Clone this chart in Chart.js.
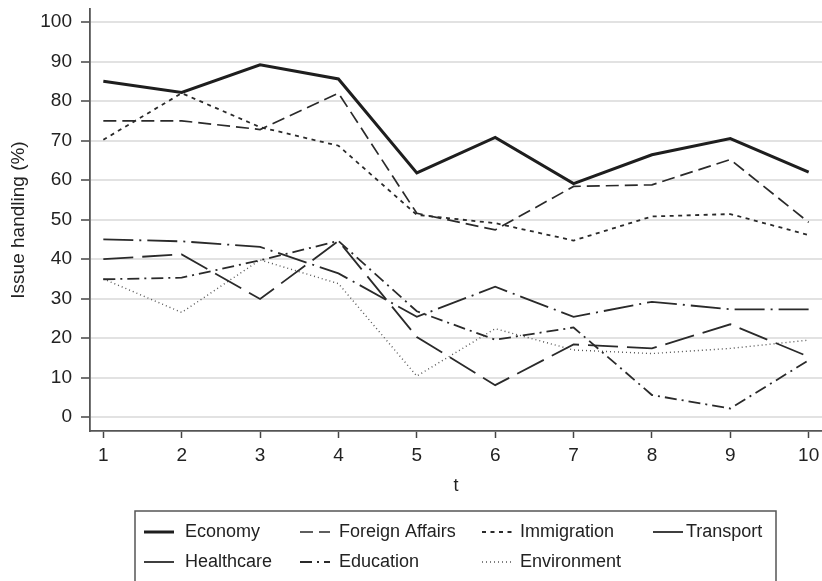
<!DOCTYPE html>
<html>
<head>
<meta charset="utf-8">
<script src="https://cdn.jsdelivr.net/npm/chart.js@4"></script>
<style>
  body { margin: 0; background: #fff; }
  #wrap { width: 822px; height: 581px; }
</style>
</head>
<body>
<div id="wrap"><canvas id="myChart" width="822" height="581"></canvas></div>
<script>
const t = [1, 2, 3, 4, 5, 6, 7, 8, 9, 10];
const yTicks = [0, 10, 20, 30, 40, 50, 60, 70, 80, 90, 100];

const economy = [85, 82.2, 89.2, 85.6, 61.8, 70.8, 59.1, 66.4, 70.5, 62];
const foreignAffairs = [75, 75, 72.8, 82, 51.6, 47.4, 58.4, 58.8, 65.2, 49.3];
const immigration = [70.2, 82, 73.4, 68.7, 51.2, 49.1, 44.7, 50.8, 51.4, 46.1];
const transport = [45, 44.5, 43.1, 36.4, 25.4, 33, 25.4, 29.2, 27.3, 27.3];
const healthcare = [40, 41.2, 29.9, 44.6, 20.3, 8.1, 18.4, 17.4, 23.5, 15.3];
const education = [34.9, 35.3, 39.7, 44.6, 26.8, 19.6, 22.7, 5.6, 2.2, 14.4];
const environment = [35, 26.5, 39.8, 33.8, 10.4, 22.4, 17, 16.1, 17.4, 19.5];

const pts = (arr) => t.map((x, i) => ({ x: x, y: arr[i] }));

function series(label, arr, dash, width, color) {
  return {
    label: label,
    data: pts(arr),
    borderColor: color,
    borderWidth: width,
    borderDash: dash,
    tension: 0,
    pointRadius: 0,
    fill: false,
  };
}

// legend drawn by hand: boxed, 4 + 3 entries
const boxLegend = {
  id: 'boxLegend',
  afterDraw(chart) {
    const ctx = chart.ctx;
    const sampleX = [144, 300, 482, 653];
    const textX = [185, 339, 520, 686];
    const rowY = [532, 562];
    ctx.save();
    ctx.strokeStyle = '#555';
    ctx.lineWidth = 1.5;
    ctx.strokeRect(135, 511, 641, 120);
    ctx.font = '18px "Liberation Sans", Arial, sans-serif';
    ctx.textBaseline = 'middle';
    ctx.fillStyle = '#222';
    chart.data.datasets.forEach((ds, i) => {
      const col = i < 4 ? i : i - 4;
      const row = i < 4 ? 0 : 1;
      const y = rowY[row];
      ctx.save();
      ctx.strokeStyle = ds.borderColor;
      ctx.lineWidth = ds.borderWidth;
      ctx.setLineDash(ds.borderDash || []);
      ctx.beginPath();
      ctx.moveTo(sampleX[col], y);
      ctx.lineTo(sampleX[col] + 30, y);
      ctx.stroke();
      ctx.restore();
      ctx.fillText(ds.label, textX[col], y);
    });
    ctx.restore();
  }
};

const ctx = document.getElementById('myChart');

const issueChart = new Chart(ctx, {
  type: 'line',
  data: {
    datasets: [
      series('Economy', economy, [], 3, '#1e1e1e'),
      series('Foreign Affairs', foreignAffairs, [13, 6], 1.7, '#2a2a2a'),
      series('Immigration', immigration, [4, 4.5], 1.8, '#2a2a2a'),
      series('Transport', transport, [30, 6, 2, 6], 1.8, '#2a2a2a'),
      series('Healthcare', healthcare, [30, 9], 1.8, '#2a2a2a'),
      series('Education', education, [12, 5, 2, 5], 1.8, '#2a2a2a'),
      series('Environment', environment, [1, 3], 1.4, '#555'),
    ],
  },
  options: {
    responsive: false,
    animation: false,
    layout: {
      padding: { top: 9, right: 0, bottom: 80, left: 0 },
    },
    plugins: {
      legend: { display: false },
      tooltip: { enabled: false },
    },
    scales: {
      x: {
        type: 'linear',
        min: 0.83,
        max: 10.17,
        afterBuildTicks: (axis) => {
          axis.ticks = t.map((v) => ({ value: v }));
        },
        afterFit: (scale) => {
          scale.height = 70;
          scale.paddingLeft = 0;
          scale.paddingRight = 0;
        },
        grid: {
          drawOnChartArea: false,
          drawTicks: true,
          tickLength: 7,
          tickColor: '#444',
          tickWidth: 1.5,
        },
        border: { color: '#555', width: 1.8 },
        ticks: {
          color: '#222',
          padding: 6,
          maxRotation: 0,
          font: { family: '"Liberation Sans", Arial, sans-serif', size: 19 },
        },
        title: {
          display: true,
          text: 't',
          color: '#222',
          padding: { top: 0, bottom: 4 },
          font: { family: '"Liberation Sans", Arial, sans-serif', size: 18 },
        },
      },
      y: {
        type: 'linear',
        min: -3.5,
        max: 103.3,
        afterBuildTicks: (axis) => {
          axis.ticks = yTicks.map((v) => ({ value: v }));
        },
        afterFit: (scale) => {
          scale.width = 90;
          scale.paddingTop = 0;
          scale.paddingBottom = 0;
        },
        grid: {
          color: '#e2e2e2',
          lineWidth: 2,
          drawTicks: true,
          tickLength: 9,
          tickColor: '#444',
          tickWidth: 1.5,
        },
        border: { color: '#555', width: 1.8 },
        ticks: {
          color: '#222',
          padding: 9,
          font: { family: '"Liberation Sans", Arial, sans-serif', size: 19 },
        },
        title: {
          display: true,
          text: 'Issue handling (%)',
          color: '#222',
          padding: { top: 7, bottom: 0 },
          font: { family: '"Liberation Sans", Arial, sans-serif', size: 19 },
        },
      },
    },
  },
  plugins: [boxLegend],
});
</script>
</body>
</html>
